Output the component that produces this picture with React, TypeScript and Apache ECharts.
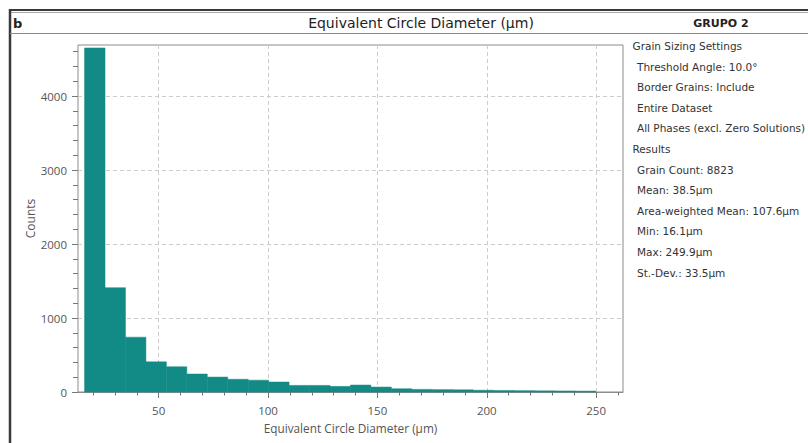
import React, { useEffect, useRef } from "react";
import * as echarts from "echarts";

// ---- data ----
const BIN_MIN = 16.1;
const BIN_MAX = 249.9;
const COUNTS = [
  4650, 1410, 741, 408, 341, 243, 202, 172, 160, 135,
  89, 89, 76, 94, 67, 44, 35, 32, 30, 24,
  21, 18, 16, 14, 12,
];
const X_MAJOR_TICKS = [50, 100, 150, 200, 250];
const X_MINOR_TICKS = [20, 30, 40, 50, 60, 70, 80, 90, 100, 110, 120, 130, 140, 150, 160, 170, 180, 190, 200, 210, 220, 230, 240, 250, 260];
const Y_MAJOR_TICKS = [0, 1000, 2000, 3000, 4000];
const Y_MINOR_TICKS = [0, 200, 400, 600, 800, 1000, 1200, 1400, 1600, 1800, 2000, 2200, 2400, 2600, 2800, 3000, 3200, 3400, 3600, 3800, 4000, 4200, 4400, 4600];
const X_MIN = 13.1;
const X_MAX = 262.3;
const Y_MAX = 4690;

const PANEL_LABEL = "b";
const TITLE = "Equivalent Circle Diameter (µm)";
const GROUP = "GRUPO 2";
const X_NAME = "Equivalent Circle Diameter (µm)";
const Y_NAME = "Counts";
const SETTINGS_HEADER = "Grain Sizing Settings";
const SETTINGS_ITEMS = [
  "Threshold Angle: 10.0°",
  "Border Grains: Include",
  "Entire Dataset",
  "All Phases (excl. Zero Solutions)",
];
const RESULTS_HEADER = "Results";
const RESULTS_ITEMS = [
  "Grain Count: 8823",
  "Mean: 38.5µm",
  "Area-weighted Mean: 107.6µm",
  "Min: 16.1µm",
  "Max: 249.9µm",
  "St.-Dev.: 33.5µm",
];

const BAR_COLOR = "#128a86";
const SIDE_FONT = "'DejaVu Sans', Verdana, sans-serif";
const AXIS_FONT = "'Open Sans', 'Noto Sans', sans-serif";

export default function App() {
  const ref = useRef<HTMLDivElement>(null);

  useEffect(() => {
    if (!ref.current) return;
    const chart = echarts.init(ref.current, undefined, { renderer: "svg" });

    const binWidth = (BIN_MAX - BIN_MIN) / COUNTS.length;
    const histData = COUNTS.map((c, i) => [BIN_MIN + i * binWidth, BIN_MIN + (i + 1) * binWidth, c]);

    const gridPos = { left: 78, right: 185, top: 45, bottom: 51 };

    const panelLines: { text: string; indent: boolean }[] = [
      { text: SETTINGS_HEADER, indent: false },
      ...SETTINGS_ITEMS.map((t) => ({ text: t, indent: true })),
      { text: RESULTS_HEADER, indent: false },
      ...RESULTS_ITEMS.map((t) => ({ text: t, indent: true })),
    ];

    const graphics: any[] = [
      // frame
      { type: "line", shape: { x1: 9, y1: 10, x2: 808, y2: 10 }, style: { stroke: "#3a3a3a", lineWidth: 2 }, silent: true },
      { type: "line", shape: { x1: 10, y1: 12.5, x2: 808, y2: 12.5 }, style: { stroke: "#aaaaaa", lineWidth: 1 }, silent: true },
      { type: "line", shape: { x1: 10, y1: 9, x2: 10, y2: 443 }, style: { stroke: "#3a3a3a", lineWidth: 2.5 }, silent: true },
      { type: "line", shape: { x1: 10, y1: 33.5, x2: 808, y2: 33.5 }, style: { stroke: "#8a8a8a", lineWidth: 1 }, silent: true },
      // header texts
      { type: "text", x: 13, y: 23, style: { text: PANEL_LABEL, font: `bold 13px ${SIDE_FONT}`, fill: "#222", verticalAlign: "middle" } },
      { type: "text", x: 421, y: 23, style: { text: TITLE, font: `14px ${SIDE_FONT}`, fill: "#222", align: "center", verticalAlign: "middle" } },
      { type: "text", x: 721, y: 23, style: { text: GROUP, font: `bold 11px ${SIDE_FONT}`, fill: "#222", align: "center", verticalAlign: "middle" } },
      ...panelLines.map((l, i) => ({
        type: "text",
        x: l.indent ? 637 : 632.5,
        y: 46 + i * 20.6,
        style: { text: l.text, font: `10.5px ${SIDE_FONT}`, fill: "#333", verticalAlign: "middle" },
      })),
    ];

    chart.setOption({
      animation: false,
      backgroundColor: "#ffffff",
      grid: [
        { ...gridPos, show: true, borderColor: "#8c8c8c", borderWidth: 1, backgroundColor: "transparent" },
        { ...gridPos, show: false },
      ],
      xAxis: [
        {
          type: "value",
          gridIndex: 0,
          min: X_MIN,
          max: X_MAX,
          position: "bottom",
          name: X_NAME,
          nameLocation: "middle",
          nameGap: 30,
          nameTextStyle: { fontFamily: AXIS_FONT, fontSize: 11.8, color: "#555" },
          axisLine: { show: true, lineStyle: { color: "#8c8c8c", width: 1 } },
          axisTick: { show: true, customValues: X_MAJOR_TICKS, length: 6, lineStyle: { color: "#777" } },
          axisLabel: { show: true, customValues: X_MAJOR_TICKS, color: "#555", fontFamily: AXIS_FONT, fontSize: 11.5, margin: 12, formatter: (v: number) => String(v) },
          splitLine: { show: true, lineStyle: { color: "#cccccc", type: [4, 3], width: 1 } },
        },
        {
          type: "value",
          gridIndex: 1,
          min: X_MIN,
          max: X_MAX,
          position: "bottom",
          axisLine: { show: false },
          axisTick: { show: true, customValues: X_MINOR_TICKS, length: 3.5, lineStyle: { color: "#777" } },
          axisLabel: { show: false },
          splitLine: { show: false },
        },
      ],
      yAxis: [
        {
          type: "value",
          gridIndex: 0,
          min: 0,
          max: Y_MAX,
          interval: 1000,
          position: "left",
          name: Y_NAME,
          nameLocation: "middle",
          nameGap: 42,
          nameMoveOverlap: false,
          nameTextStyle: { fontFamily: AXIS_FONT, fontSize: 12, color: "#555" },
          axisLine: { show: false },
          axisTick: { show: true, customValues: Y_MAJOR_TICKS, length: 6, lineStyle: { color: "#777" } },
          axisLabel: { show: true, customValues: Y_MAJOR_TICKS, color: "#555", fontFamily: AXIS_FONT, fontSize: 11.5, margin: 11, formatter: (v: number) => String(v) },
          splitLine: { show: true, lineStyle: { color: "#cccccc", type: [4, 3], width: 1 } },
        },
        {
          type: "value",
          gridIndex: 1,
          min: 0,
          max: Y_MAX,
          position: "left",
          axisLine: { show: false },
          axisTick: { show: true, customValues: Y_MINOR_TICKS, length: 5, lineStyle: { color: "#777" } },
          axisLabel: { show: false },
          splitLine: { show: false },
        },
      ],
      series: [
        {
          type: "custom",
          xAxisIndex: 0,
          yAxisIndex: 0,
          data: histData,
          encode: { x: [0, 1], y: 2 },
          renderItem: (_params: any, api: any) => {
            const p0 = api.coord([api.value(0), api.value(2)]);
            const p1 = api.coord([api.value(1), 0]);
            return {
              type: "rect",
              shape: { x: p0[0], y: p0[1], width: p1[0] - p0[0], height: p1[1] - p0[1] },
              style: { fill: BAR_COLOR, stroke: BAR_COLOR, lineWidth: 0.5 },
            };
          },
        },
      ],
      graphic: graphics,
    });

    return () => chart.dispose();
  }, []);

  return <div ref={ref} style={{ position: "fixed", left: 0, top: 0, width: 808, height: 443 }} />;
}
